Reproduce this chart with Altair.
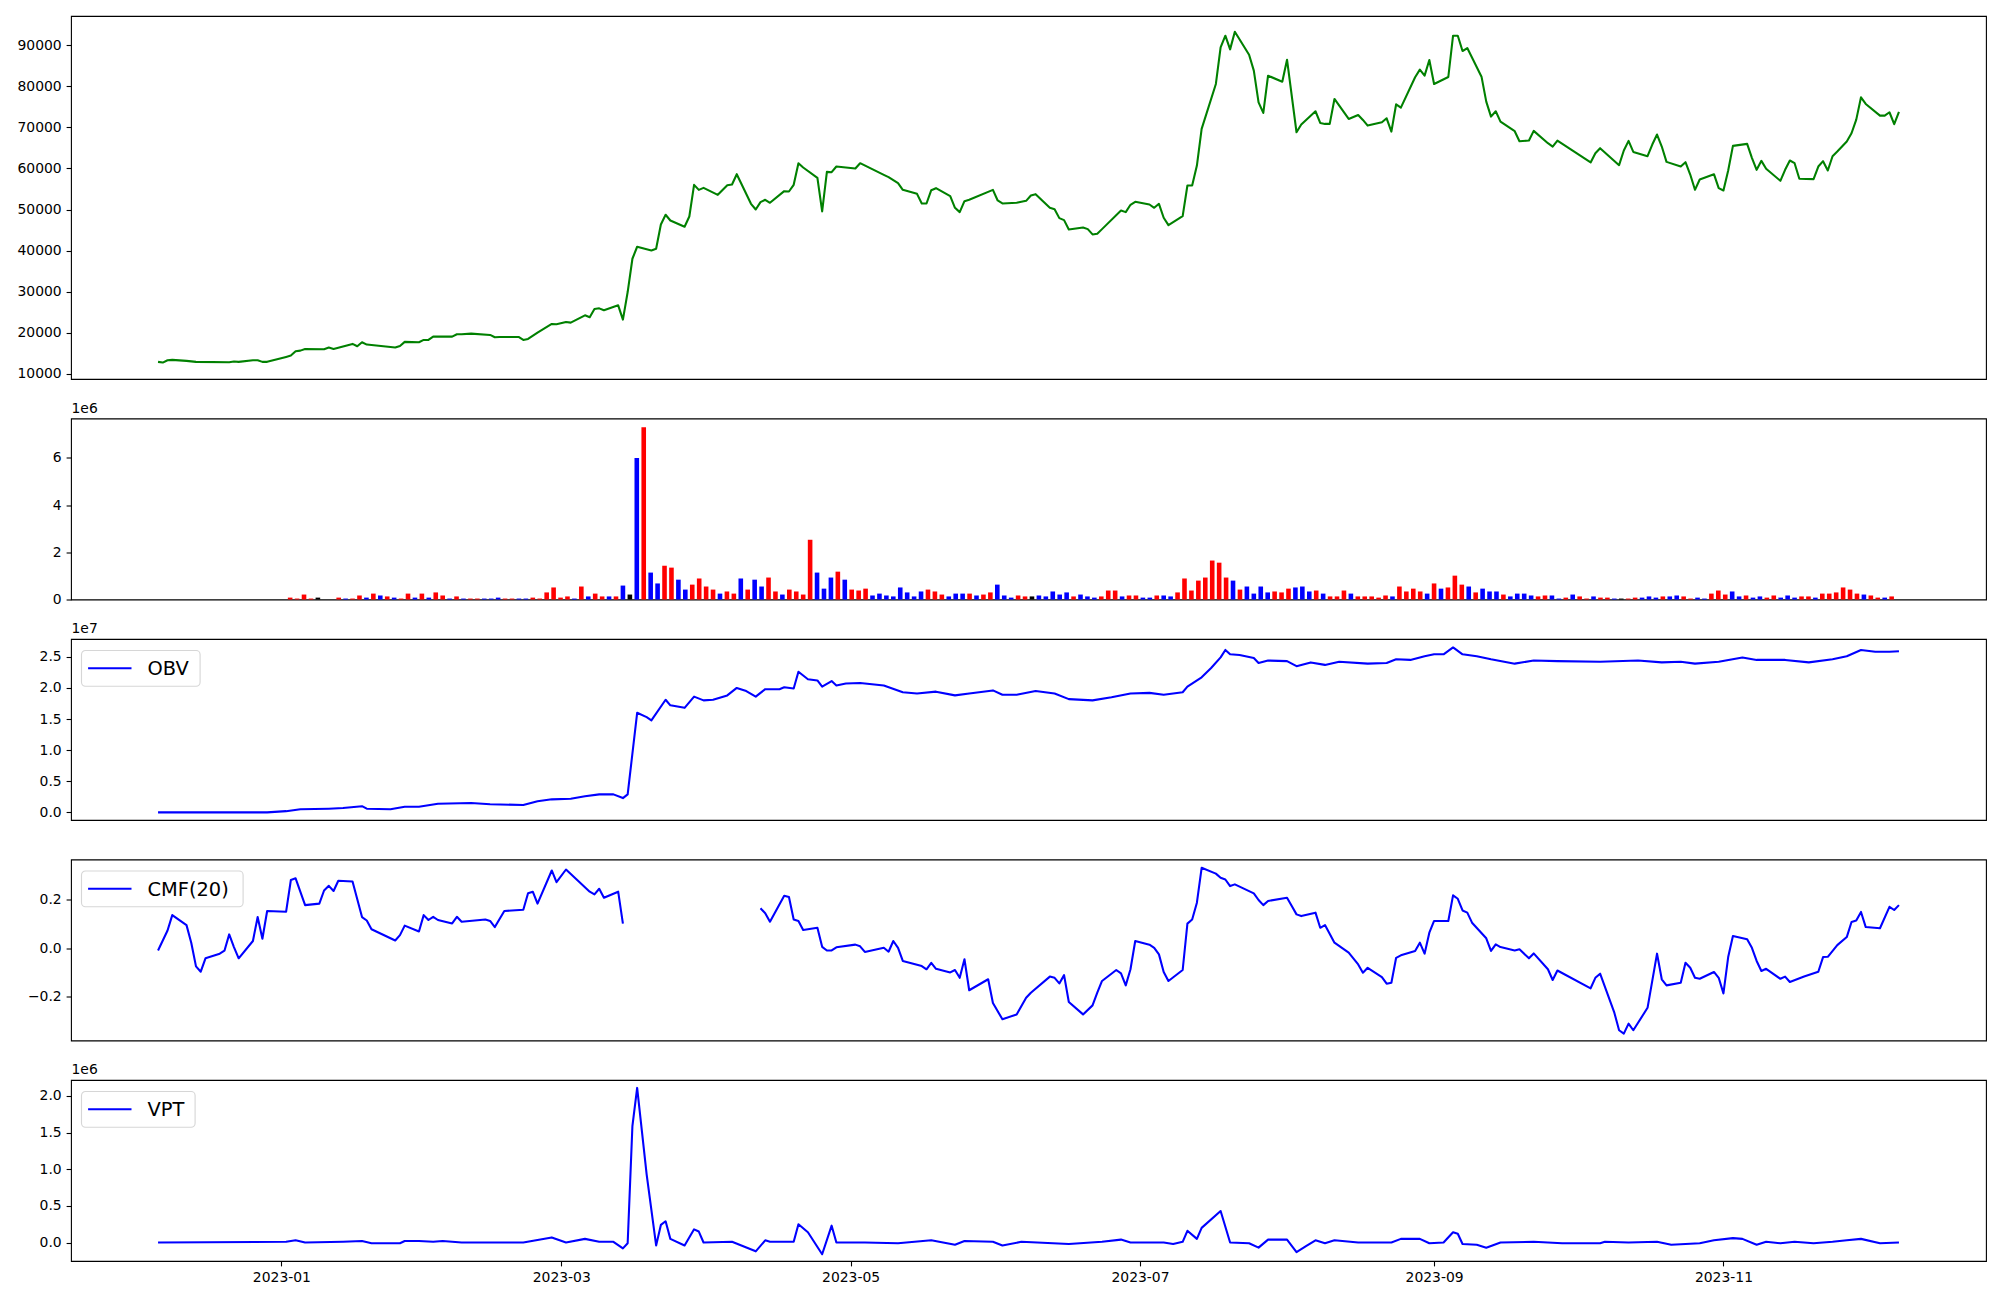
import altair as alt
import pandas as pd

FONT = "DejaVu Sans"

# ---------------- data (day offsets are days after 2023-01-01) ----------------
price_day = [-26, -25, -24, -23, -20, -18, -11, -10, -9, -6,
             -5, -4, -3, 1, 2, 3, 4, 5, 9, 10,
             11, 15, 16, 17, 18, 24, 25, 26, 29, 30,
             31, 32, 36, 37, 38, 40, 44, 45, 46, 50,
             51, 52, 54, 57, 58, 60, 61, 64, 65, 66,
             67, 68, 71, 72, 73, 74, 75, 78, 79, 80,
             81, 82, 85, 86, 87, 88, 89, 92, 94, 95,
             96, 99, 100, 101, 102, 103, 106, 107, 108, 109,
             110, 113, 114, 115, 116, 117, 121, 122, 127, 128,
             130, 131, 134, 135, 136, 137, 138, 141, 142, 143,
             144, 145, 150, 151, 152, 155, 157, 158, 159, 162,
             163, 164, 165, 166, 169, 170, 171, 172, 173, 177,
             178, 179, 180, 183, 184, 185, 186, 187, 190, 191,
             192, 193, 194, 197, 198, 199, 200, 201, 204, 205,
             206, 207, 208, 211, 212, 214, 215, 218, 219, 220,
             221, 222, 225, 227, 228, 229, 232, 233, 234, 235,
             236, 239, 240, 241, 242, 243, 246, 247, 248, 249,
             250, 253, 254, 255, 256, 257, 260, 261, 263, 264,
             267, 268, 269, 276, 277, 278, 282, 283, 284, 285,
             288, 289, 290, 291, 292, 295, 296, 297, 298, 299,
             302, 303, 304, 305, 306, 309, 310, 311, 312, 313,
             316, 317, 318, 319, 320, 323, 324, 325, 326, 327,
             328, 330, 331, 332, 333, 334, 337, 338, 339, 340,
             341]
price_close = [12930, 12760, 13330, 13410, 13170, 12930, 12840, 13000, 12930, 13330,
               13330, 12930, 12930, 14140, 14460, 15510, 15670, 16080, 16000, 16410,
               16080, 17300, 16730, 17700, 17140, 16410, 16810, 17790, 17700, 18270,
               18270, 19080, 19080, 19650, 19650, 19810, 19490, 18920, 19000, 19000,
               18270, 18510, 20050, 22160, 22080, 22640, 22480, 24260, 23780, 25800,
               25960, 25480, 26690, 23210, 29930, 38030, 40950, 40060, 40460, 46380,
               48730, 47350, 45810, 48320, 56020, 54800, 55290, 53590, 55940, 56100,
               58610, 51400, 50020, 51800, 52380, 51650, 54480, 54400, 56020, 61290,
               60240, 57730, 49550, 59180, 59100, 60480, 59990, 61290, 58450, 57890,
               56430, 54800, 53830, 51480, 51480, 54720, 55210, 53270, 50430, 49380,
               52050, 52380, 54800, 52210, 51480, 51650, 52130, 53430, 53750, 50430,
               50100, 47920, 47430, 45160, 45650, 45240, 43950, 44110, 45240, 49780,
               49380, 51160, 51890, 51240, 50430, 51400, 48000, 46220, 48410, 55860,
               55860, 60720, 69630, 80570, 89480, 92320, 88990, 93290, 87700, 83810,
               76110, 73520, 82590, 81130, 86480, 68820, 70690, 73930, 71090, 70850,
               70850, 76930, 72060, 73030, 71820, 70440, 71250, 72220, 68990, 75630,
               74820, 82200, 84060, 82600, 86410, 80570, 82270, 92320, 92320, 88590,
               89320, 82350, 76280, 72630, 73930, 71420, 69070, 66640, 66800, 69150,
               66150, 65340, 66800, 61460, 63720, 64940, 60810, 64370, 66720, 64040,
               62990, 65830, 68260, 65340, 61610, 60480, 61530, 58530, 54810, 57320,
               58610, 55210, 54650, 59510, 65500, 65990, 62590, 59670, 61860, 59920,
               57000, 59670, 61940, 61290, 57490, 57410, 60480, 61780, 59510, 62990,
               64120, 66560, 68580, 71900, 77330, 75710, 72870, 72870, 73690, 70770,
               73770]

# volume per trading session (x = session index), in millions; colour code r/b/k
vol_1e6 = [0] * 18 + [
    0.08, 0.04, 0.21, 0.04, 0.08, 0, 0, 0.08, 0.04, 0.04,
    0.17, 0.08, 0.25, 0.17, 0.13, 0.08, 0.04, 0.25, 0.08, 0.25,
    0.08, 0.30, 0.17, 0.04, 0.13, 0.04, 0.04, 0.04, 0.04, 0.04,
    0.08, 0.04, 0.04, 0.04, 0.04, 0.08, 0.04, 0.30, 0.51, 0.08,
    0.13, 0.04, 0.55, 0.13, 0.25, 0.13, 0.13, 0.13, 0.59, 0.21,
    5.99, 7.30, 1.14, 0.68, 1.43, 1.35, 0.84, 0.42, 0.63, 0.89,
    0.55, 0.42, 0.25, 0.34, 0.25, 0.89, 0.42, 0.84, 0.55, 0.93,
    0.34, 0.21, 0.42, 0.34, 0.21, 2.53, 1.14, 0.46, 0.93, 1.18,
    0.84, 0.42, 0.38, 0.46, 0.17, 0.25, 0.17, 0.13, 0.51, 0.30,
    0.13, 0.34, 0.42, 0.34, 0.21, 0.13, 0.25, 0.25, 0.25, 0.17,
    0.21, 0.30, 0.63, 0.17, 0.08, 0.17, 0.13, 0.13, 0.17, 0.13,
    0.34, 0.21, 0.30, 0.13, 0.21, 0.13, 0.08, 0.13, 0.38, 0.38,
    0.13, 0.17, 0.17, 0.08, 0.08, 0.17, 0.17, 0.13, 0.30, 0.89,
    0.38, 0.80, 0.93, 1.65, 1.56, 0.93, 0.80, 0.42, 0.55, 0.25,
    0.55, 0.30, 0.34, 0.30, 0.46, 0.51, 0.55, 0.34, 0.38, 0.25,
    0.13, 0.13, 0.38, 0.25, 0.13, 0.13, 0.13, 0.08, 0.17, 0.13,
    0.55, 0.34, 0.46, 0.34, 0.25, 0.68, 0.46, 0.51, 1.01, 0.63,
    0.55, 0.30, 0.46, 0.34, 0.34, 0.21, 0.13, 0.25, 0.25, 0.17,
    0.13, 0.17, 0.17, 0.04, 0.08, 0.21, 0.13, 0.04, 0.13, 0.08,
    0.08, 0.04, 0.04, 0.04, 0.08, 0.08, 0.13, 0.08, 0.13, 0.13,
    0.17, 0.13, 0.04, 0.08, 0.04, 0.25, 0.38, 0.21, 0.34, 0.13,
    0.17, 0.08, 0.13, 0.08, 0.17, 0.08, 0.17, 0.08, 0.13, 0.13,
    0.08, 0.25, 0.25, 0.30, 0.51, 0.42, 0.25, 0.21, 0.17, 0.08,
    0.08, 0.13]
vol_code = list("r" * 18 +
    "rrrrkrrrbr" "rbrbrbrrbr" "brrbrbrrbb" "brrbbrrrrr" "rbrbrrbrbk"
    "brbbrrbbrr" "rrbrrbrbbr" "rbrrrrbbbr" "brrrbbbbbb" "bbrrrbbbrb"
    "rrbbbrrkbb" "bbbrbbbrrr" "brrbbrbbrr" "rrrrrrbrbb" "bbrrrbbbrb"
    "rrrbrrrrrb" "rrrrbrbrrr" "brbbbrbbbb" "rrbbrbrrbr" "rbkrrbbbrb"
    "brrbbrrrbb" "rbbrrbbbrr" "brrrrrrbrr" "br")
vol_palette = {"r": "red", "b": "blue", "k": "black"}

obv_day = [-26, -3, 1, 4, 10, 13, 17, 18, 23, 26,
           29, 33, 40, 44, 51, 54, 57, 61, 64, 67,
           70, 72, 73, 75, 77, 78, 81, 82, 85, 87,
           89, 91, 94, 96, 98, 100, 102, 105, 106, 108,
           109, 111, 113, 114, 116, 117, 119, 122, 127, 131,
           134, 138, 142, 145, 150, 152, 155, 159, 163, 166,
           171, 175, 179, 183, 186, 190, 191, 194, 196, 198,
           199, 200, 202, 205, 206, 208, 212, 214, 217, 220,
           223, 229, 233, 235, 238, 241, 243, 245, 247, 249,
           252, 255, 260, 264, 269, 278, 286, 291, 295, 298,
           303, 308, 311, 317, 322, 327, 330, 333, 336, 339,
           341]
obv_1e7 = [0.00, 0.00, 0.02, 0.05, 0.06, 0.07, 0.10, 0.06, 0.05, 0.09,
           0.09, 0.14, 0.15, 0.13, 0.12, 0.18, 0.21, 0.22, 0.26, 0.29,
           0.29, 0.23, 0.29, 1.60, 1.53, 1.48, 1.81, 1.72, 1.68, 1.86,
           1.80, 1.81, 1.88, 2.00, 1.95, 1.86, 1.98, 1.98, 2.01, 1.99,
           2.26, 2.14, 2.12, 2.02, 2.11, 2.04, 2.07, 2.08, 2.04, 1.93,
           1.91, 1.94, 1.88, 1.91, 1.96, 1.89, 1.89, 1.95, 1.91, 1.82,
           1.80, 1.85, 1.91, 1.92, 1.89, 1.93, 2.02, 2.17, 2.32, 2.49,
           2.61, 2.54, 2.53, 2.48, 2.40, 2.44, 2.43, 2.35, 2.41, 2.37,
           2.42, 2.39, 2.40, 2.46, 2.45, 2.51, 2.54, 2.54, 2.65, 2.54,
           2.51, 2.46, 2.39, 2.44, 2.43, 2.42, 2.44, 2.41, 2.42, 2.39,
           2.42, 2.49, 2.45, 2.45, 2.41, 2.46, 2.51, 2.61, 2.58, 2.58,
           2.59]

cmf_day_a = [-26, -24, -23, -20, -19, -18, -17, -16, -13, -12,
             -11, -10, -9, -6, -5, -4, -3, 1, 2, 3,
             5, 8, 9, 10, 11, 12, 15, 17, 18, 19,
             24, 25, 26, 29, 30, 31, 32, 33, 36, 37,
             38, 43, 44, 45, 47, 51, 52, 53, 54, 57,
             58, 60, 65, 66, 67, 68, 71, 72]
cmf_a = [-0.010, 0.072, 0.135, 0.094, 0.022, -0.075, -0.097, -0.042, -0.023, -0.011,
         0.056, 0.004, -0.042, 0.029, 0.127, 0.038, 0.152, 0.149, 0.279, 0.286,
         0.176, 0.182, 0.236, 0.255, 0.234, 0.276, 0.273, 0.127, 0.113, 0.077,
         0.031, 0.053, 0.092, 0.068, 0.135, 0.115, 0.128, 0.115, 0.101, 0.128,
         0.108, 0.117, 0.111, 0.086, 0.152, 0.157, 0.225, 0.231, 0.182, 0.318,
         0.270, 0.322, 0.231, 0.220, 0.243, 0.206, 0.231, 0.100]
cmf_day_b = [101, 102, 103, 106, 107, 108, 109, 110, 113, 114,
             115, 116, 117, 121, 122, 123, 127, 128, 129, 130,
             131, 135, 136, 137, 138, 141, 142, 143, 144, 145,
             149, 150, 152, 155, 157, 158, 162, 163, 164, 165,
             166, 169, 171, 172, 173, 176, 177, 178, 179, 180,
             183, 184, 185, 186, 187, 190, 191, 192, 193, 194,
             197, 198, 199, 200, 201, 205, 206, 207, 208, 212,
             213, 214, 215, 218, 219, 220, 222, 225, 227, 228,
             229, 232, 233, 234, 235, 236, 239, 240, 241, 242,
             243, 246, 247, 248, 249, 250, 251, 254, 255, 256,
             257, 260, 261, 263, 264, 267, 268, 269, 276, 277,
             278, 281, 282, 283, 284, 285, 288, 290, 291, 292,
             295, 296, 297, 298, 299, 302, 303, 304, 305, 306,
             309, 310, 311, 312, 313, 316, 317, 318, 321, 324,
             325, 326, 328, 330, 331, 332, 333, 334, 337, 339,
             340, 341]
cmf_b = [0.163, 0.143, 0.108, 0.214, 0.209, 0.117, 0.111, 0.074, 0.083, 0.005,
         -0.010, -0.010, 0.003, 0.014, 0.007, -0.016, 0.001, -0.015, 0.029, 0.001,
         -0.053, -0.074, -0.087, -0.061, -0.085, -0.100, -0.090, -0.122, -0.046, -0.173,
         -0.128, -0.225, -0.292, -0.272, -0.204, -0.183, -0.117, -0.122, -0.145, -0.111,
         -0.221, -0.272, -0.235, -0.183, -0.135, -0.090, -0.104, -0.153, -0.087, 0.029,
         0.014, 0.001, -0.026, -0.098, -0.135, -0.090, 0.100, 0.117, 0.186, 0.329,
         0.305, 0.288, 0.281, 0.254, 0.261, 0.224, 0.197, 0.176, 0.193, 0.206,
         0.172, 0.138, 0.131, 0.145, 0.083, 0.094, 0.022, -0.019, -0.067, -0.101,
         -0.081, -0.119, -0.146, -0.142, -0.040, -0.030, -0.012, 0.022, -0.023, 0.063,
         0.111, 0.111, 0.216, 0.202, 0.154, 0.145, 0.104, 0.040, -0.012, 0.015,
         0.004, -0.010, -0.005, -0.042, -0.022, -0.087, -0.131, -0.092, -0.165, -0.122,
         -0.105, -0.265, -0.337, -0.351, -0.310, -0.337, -0.245, -0.023, -0.128, -0.153,
         -0.142, -0.060, -0.081, -0.122, -0.126, -0.098, -0.122, -0.186, -0.037, 0.049,
         0.036, 0.001, -0.053, -0.094, -0.085, -0.126, -0.117, -0.139, -0.117, -0.097,
         -0.037, -0.036, 0.012, 0.045, 0.107, 0.113, 0.148, 0.086, 0.081, 0.169,
         0.156, 0.176]

vpt_day = [-26, 1, 3, 5, 13, 17, 19, 25, 26, 29,
           32, 34, 38, 51, 57, 60, 64, 67, 70, 72,
           73, 74, 75, 77, 79, 80, 81, 82, 85, 87,
           88, 89, 95, 100, 102, 103, 108, 109, 111, 114,
           116, 117, 123, 130, 137, 142, 144, 150, 152, 156,
           166, 173, 177, 179, 186, 188, 190, 191, 193, 194,
           198, 200, 204, 206, 208, 212, 214, 216, 218, 220,
           222, 227, 234, 236, 240, 242, 245, 247, 248, 249,
           252, 254, 257, 264, 270, 278, 279, 284, 290, 293,
           299, 302, 306, 308, 311, 313, 316, 319, 323, 327,
           330, 333, 337, 341]
vpt_1e6 = [0.00, 0.01, 0.03, 0.00, 0.01, 0.02, -0.01, -0.01, 0.02, 0.02,
           0.01, 0.02, 0.00, 0.00, 0.07, 0.00, 0.05, 0.01, 0.01, -0.08,
           -0.01, 1.59, 2.11, 0.93, -0.04, 0.24, 0.29, 0.05, -0.04, 0.18,
           0.15, 0.00, 0.01, -0.12, 0.03, 0.01, 0.01, 0.25, 0.14, -0.16,
           0.23, 0.00, 0.00, -0.01, 0.03, -0.03, 0.02, 0.01, -0.04, 0.01,
           -0.02, 0.01, 0.04, 0.00, 0.00, -0.02, 0.01, 0.16, 0.05, 0.20,
           0.43, 0.00, -0.01, -0.07, 0.04, 0.04, -0.13, -0.05, 0.03, -0.01,
           0.03, 0.00, 0.00, 0.05, 0.05, -0.01, 0.00, 0.14, 0.12, -0.02,
           -0.03, -0.07, 0.00, 0.01, -0.01, -0.01, 0.01, 0.00, 0.01, -0.03,
           -0.01, 0.03, 0.06, 0.05, -0.03, 0.01, -0.01, 0.01, -0.01, 0.01,
           0.03, 0.05, -0.01, 0.00]

x_tick_months = [1, 3, 5, 7, 9, 11]

# ---------------- tables ----------------
BASE = pd.Timestamp("2023-01-01")


def to_dates(days):
    return [(BASE + pd.Timedelta(days=d)).strftime("%Y-%m-%d") for d in days]


price_df = pd.DataFrame({"date": to_dates(price_day), "v": price_close})
vol_df = pd.DataFrame({"idx": list(range(len(vol_1e6))), "v": vol_1e6,
                       "c": [vol_palette[c] for c in vol_code]})
obv_df = pd.DataFrame({"date": to_dates(obv_day), "v": obv_1e7})
cmf_df = pd.concat([
    pd.DataFrame({"date": to_dates(cmf_day_a), "v": cmf_a, "seg": "a"}),
    pd.DataFrame({"date": to_dates(cmf_day_b), "v": cmf_b, "seg": "b"}),
], ignore_index=True)
vpt_df = pd.DataFrame({"date": to_dates(vpt_day), "v": vpt_1e6})

# ---------------- styling helpers ----------------
W = 1915
H_MAIN = 363
H = 181

xscale = alt.Scale(type="utc", domain=[
    alt.DateTime(year=2022, month=11, date=17, hours=15, minutes=36, utc=True),
    alt.DateTime(year=2023, month=12, date=26, hours=8, minutes=24, utc=True)])


def yaxis(values, fmt):
    return alt.Axis(values=values, format=fmt, title=None, grid=False, domain=False,
                    ticks=True, tickSize=4.9, tickWidth=1.1, tickColor="black",
                    labelFont=FONT, labelFontSize=13.9, labelColor="black",
                    labelPadding=4.9, minExtent=57, maxExtent=57,
                    labelFlush=False, labelOverlap=False)


def yscale(lo, hi):
    return alt.Scale(domain=[lo, hi], nice=False, zero=False)


def offset_text(s):
    return alt.Chart(pd.DataFrame({"t": [s]})).mark_text(
        align="left", baseline="alphabetic", font=FONT, fontSize=13.9, color="black"
    ).encode(x=alt.value(0.5), y=alt.value(-6), text="t:N")


def legend_layers(label, box_w):
    one = pd.DataFrame({"t": [label]})
    box = alt.Chart(one).mark_rect(
        cornerRadius=4, fill="white", fillOpacity=0.8, stroke="#cccccc",
        strokeOpacity=0.8, strokeWidth=1.1
    ).encode(x=alt.value(10.5), x2=alt.value(10.5 + box_w),
             y=alt.value(11.5), y2=alt.value(47.2))
    handle = alt.Chart(one).mark_rule(color="blue", strokeWidth=2.08).encode(
        x=alt.value(17.1), x2=alt.value(60.5), y=alt.value(29.3))
    txt = alt.Chart(one).mark_text(
        align="left", baseline="middle", font=FONT, fontSize=19.4, color="black"
    ).encode(x=alt.value(76.5), y=alt.value(30), text="t:N")
    return [box, handle, txt]


def line(df, color, y, extra=None):
    enc = dict(x=alt.X("date:T", scale=xscale, axis=None), y=y)
    if extra:
        enc.update(extra)
    return alt.Chart(df).mark_line(color=color, strokeWidth=2.08,
                                   strokeJoin="round", clip=True).encode(**enc)


# ---------------- panels ----------------
p1 = line(price_df, "green",
          alt.Y("v:Q", scale=yscale(8760, 97117),
                axis=yaxis(list(range(10000, 90001, 10000)), "d"))
          ).properties(width=W, height=H_MAIN)

bars = alt.Chart(vol_df).mark_bar(size=4.6).encode(
    x=alt.X("idx:Q", scale=alt.Scale(domain=[-12.89, 261.89], nice=False, zero=False),
            axis=None),
    y=alt.Y("v:Q", scale=alt.Scale(domain=[0, 7.666], nice=False),
            axis=yaxis([0, 2, 4, 6], "d")),
    color=alt.Color("c:N", scale=None),
)
p2 = alt.layer(bars, offset_text("1e6")).properties(width=W, height=H)

obv_line = line(obv_df, "blue",
                alt.Y("v:Q", scale=yscale(-0.122, 2.786),
                      axis=yaxis([0, 0.5, 1.0, 1.5, 2.0, 2.5], ".1f")))
p3 = alt.layer(obv_line, offset_text("1e7"), *legend_layers("OBV", 118.6)
               ).properties(width=W, height=H)

cmf_line = line(cmf_df, "blue",
                alt.Y("v:Q", scale=yscale(-0.379, 0.363),
                      axis=yaxis([-0.2, 0.0, 0.2], ".1f")),
                extra=dict(detail="seg:N"))
p4 = alt.layer(cmf_line, *legend_layers("CMF(20)", 161.6)).properties(width=W, height=H)

vpt_line = alt.Chart(vpt_df).mark_line(color="blue", strokeWidth=2.08,
                                       strokeJoin="round", clip=True).encode(
    x=alt.X("date:T", scale=xscale,
            axis=alt.Axis(values=[alt.DateTime(year=2023, month=m, date=1, utc=True)
                                  for m in x_tick_months],
                          format="%Y-%m", title=None, grid=False, domain=False,
                          tickSize=4.9, tickWidth=1.1, tickColor="black",
                          labelFont=FONT, labelFontSize=13.9, labelColor="black",
                          labelPadding=4.9, labelFlush=False, labelOverlap=False)),
    y=alt.Y("v:Q", scale=yscale(-0.252, 2.218),
            axis=yaxis([0, 0.5, 1.0, 1.5, 2.0], ".1f")),
)
p5 = alt.layer(vpt_line, offset_text("1e6"), *legend_layers("VPT", 113.6)
               ).properties(width=W, height=H)

chart = alt.vconcat(p1, p2, p3, p4, p5, spacing=39.5, bounds="flush").resolve_scale(
    x="independent", y="independent"
).properties(
    padding={"left": 5, "top": 7, "right": 5, "bottom": 5},
    background="white",
).configure_view(stroke="black", strokeWidth=1.1)

chart.save("out.html", embed_options={"renderer": "svg", "actions": False})
